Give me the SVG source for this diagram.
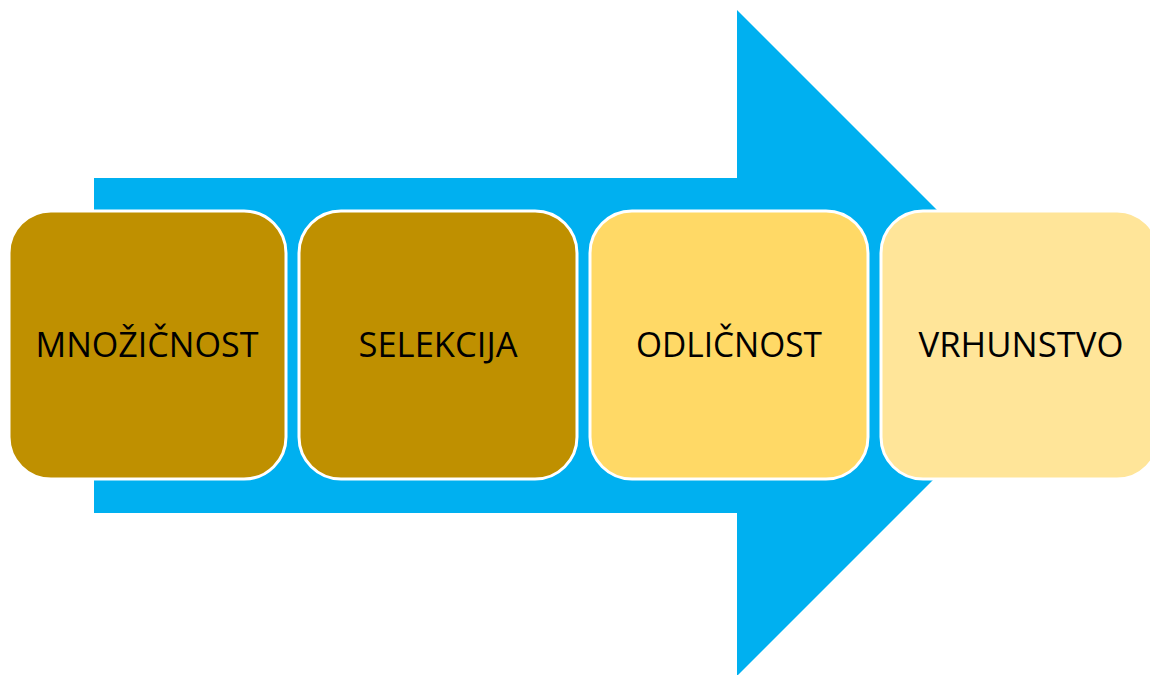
<svg xmlns="http://www.w3.org/2000/svg" width="1150" height="675" viewBox="0 0 1150 675">
<style>
.box{stroke:#FFFFFF;stroke-width:3}
.lbl{font-family:"Open Sans","Liberation Sans",sans-serif;font-size:34px;fill:#000000;text-anchor:middle}
</style>
<rect width="1150" height="675" fill="#FFFFFF"/>
<g id="connectors">
<polygon points="94,178 737,178 737,10 1070,343 737,676 737,513 94,513" fill="#00B0F0"/>
</g>
<g id="node1">
<rect class="box" x="9" y="211" width="277" height="268" rx="42" fill="#BF9000"/>
<text class="lbl" x="147" y="357" textLength="223" lengthAdjust="spacingAndGlyphs">MNOŽIČNOST</text>
</g>
<g id="node2">
<rect class="box" x="299" y="211" width="278" height="268" rx="42" fill="#BF9000"/>
<text class="lbl" x="438" y="357" textLength="159" lengthAdjust="spacingAndGlyphs">SELEKCIJA</text>
</g>
<g id="node3">
<rect class="box" x="590" y="211" width="278" height="268" rx="42" fill="#FFD966"/>
<text class="lbl" x="729" y="357" textLength="186" lengthAdjust="spacingAndGlyphs">ODLIČNOST</text>
</g>
<g id="node4">
<rect class="box" x="881" y="211" width="278" height="268" rx="42" fill="#FFE599"/>
<text class="lbl" x="1021" y="357" textLength="205" lengthAdjust="spacingAndGlyphs">VRHUNSTVO</text>
</g>
</svg>
